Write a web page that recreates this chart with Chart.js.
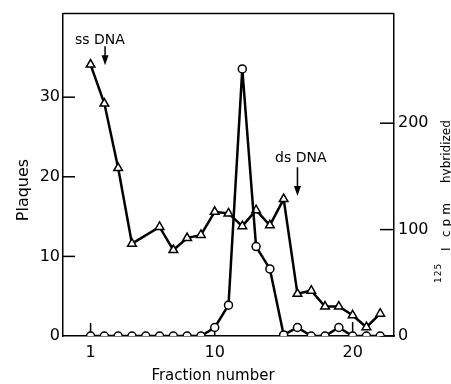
<!DOCTYPE html>
<html>
<head>
<meta charset="utf-8">
<script src="https://cdn.jsdelivr.net/npm/chart.js@4.4.1/dist/chart.umd.min.js"></script>
<style>
  body { margin: 0; background: #fff; }
  #wrap { width: 451px; height: 384px; }
</style>
</head>
<body>
<div id="wrap"><canvas id="TChart"></canvas></div>
<script>
// fraction numbers and values
var fractions = [1,2,3,4,5,6,7,8,9,10,11,12,13,14,15,16,17,18,19,20,21,22];
var plaqueFractions = [1,2,3,4,6,7,8,9,10,11,12,13,14,15,16,17,18,19,20,21,22]; // no point at 5
var plaques = [34.1,29.2,21.1,11.6,13.7,10.8,12.3,12.7,15.6,15.4,13.8,15.8,13.9,17.2,5.3,5.7,3.7,3.7,2.6,1.1,2.8];
var cpm = [0,0,0,0,0,0,0,0,0,8,29,251,84,63,1,8,0,0,8,0,0,0];

var xTicks = [1, 10, 20];
var plaqueTicks = [0, 10, 20, 30];
var cpmTicks = [0, 100, 200];

var FONT = "'DejaVu Sans', sans-serif";

function pts(xs, ys) {
  var out = [];
  for (var i = 0; i < xs.length; i++) out.push({x: xs[i], y: ys[i]});
  return out;
}

function line(ctx, x1, y1, x2, y2) {
  ctx.beginPath(); ctx.moveTo(x1, y1); ctx.lineTo(x2, y2); ctx.stroke();
}

function arrow(ctx, x, y1, y2) {
  ctx.lineWidth = 1.5;
  line(ctx, x, y1, x, y2 - 8);
  ctx.beginPath();
  ctx.moveTo(x - 3.5, y2 - 10); ctx.lineTo(x + 3.5, y2 - 10); ctx.lineTo(x, y2);
  ctx.closePath(); ctx.fill();
}

var frame = {
  id: 'frame',
  beforeDatasetsDraw: function(chart) {
    var ctx = chart.ctx, a = chart.chartArea, s = chart.scales;
    ctx.save();
    ctx.strokeStyle = '#000';
    ctx.lineWidth = 1.5;
    line(ctx, a.left, a.top, a.right, a.top);
    plaqueTicks.forEach(function(v) {
      var y = s.yL.getPixelForValue(v);
      if (v > 0) line(ctx, a.left, y, a.left + 12, y);
    });
    cpmTicks.forEach(function(v) {
      var y = s.yR.getPixelForValue(v);
      line(ctx, a.right - 14, y, a.right, y);
    });
    var tl = [13, 6, 14];
    xTicks.forEach(function(v, i) {
      var x = s.x.getPixelForValue(v);
      line(ctx, x, a.bottom, x, a.bottom - tl[i]);
    });
    ctx.restore();
  },
  afterDraw: function(chart) {
    var ctx = chart.ctx, s = chart.scales;
    ctx.save();
    ctx.fillStyle = '#000';
    ctx.strokeStyle = '#000';

    // x title
    ctx.font = '15px ' + FONT;
    ctx.textAlign = 'center';
    ctx.textBaseline = 'alphabetic';
    ctx.fillText('Fraction number', 213, 380);

    // left title
    ctx.save();
    ctx.translate(28, 190);
    ctx.rotate(-Math.PI / 2);
    ctx.font = '16px ' + FONT;
    ctx.fillText('Plaques', 0, 0);
    ctx.restore();

    // right title
    ctx.save();
    ctx.translate(450, 287);
    ctx.rotate(-Math.PI / 2);
    ctx.textAlign = 'left';
    ctx.font = '9px ' + FONT;
    ctx.letterSpacing = '1px';
    ctx.fillText('125', 4, -9);
    ctx.letterSpacing = '0px';
    ctx.font = '12px ' + FONT;
    ctx.fillText('I', 36, 0);
    ctx.letterSpacing = '4px';
    ctx.fillText('cpm', 50, 0);
    ctx.letterSpacing = '0px';
    ctx.fillText('hybridized', 104, 0);
    ctx.restore();

    // annotations
    ctx.font = '14px ' + FONT;
    ctx.textAlign = 'left';
    ctx.textBaseline = 'middle';
    ctx.fillText('ss DNA', 75, 40);
    ctx.fillText('ds DNA', 275, 158);
    arrow(ctx, s.x.getPixelForValue(2.05), s.yL.getPixelForValue(36.4), s.yL.getPixelForValue(34.0));
    arrow(ctx, s.x.getPixelForValue(16), s.yL.getPixelForValue(21.2), s.yL.getPixelForValue(17.6));
    ctx.restore();
  }
};

function setTicks(list) {
  return function(scale) {
    scale.ticks = list.map(function(v) { return {value: v}; });
  };
}

new Chart(document.getElementById('TChart'), {
  type: 'line',
  data: {
    datasets: [{
      data: pts(fractions, cpm),
      yAxisID: 'yR',
      borderColor: '#000',
      borderWidth: 2.5,
      pointStyle: 'circle',
      pointRadius: 4,
      pointBackgroundColor: '#fff',
      pointBorderColor: '#000',
      pointBorderWidth: 1.5,
      fill: false,
      tension: 0
    }, {
      data: pts(plaqueFractions, plaques),
      yAxisID: 'yL',
      borderColor: '#000',
      borderWidth: 2.5,
      pointStyle: 'triangle',
      pointRadius: 5,
      pointBackgroundColor: '#fff',
      pointBorderColor: '#000',
      pointBorderWidth: 1.5,
      fill: false,
      tension: 0
    }]
  },
  options: {
    responsive: true,
    maintainAspectRatio: false,
    animation: false,
    layout: { padding: { top: 12, left: 0, right: 0, bottom: 0 } },
    plugins: { legend: { display: false }, tooltip: { enabled: false } },
    scales: {
      x: {
        type: 'linear',
        min: -1, max: 23,
        afterBuildTicks: setTicks(xTicks),
        afterFit: function(s) { s.height = 48; },
        grid: { display: false, drawTicks: false },
        border: { display: true, color: '#000', width: 1.5 },
        ticks: { color: '#000', font: { family: FONT, size: 16 }, padding: 7, maxRotation: 0 }
      },
      yL: {
        position: 'left',
        min: 0, max: 40.5,
        afterBuildTicks: setTicks(plaqueTicks),
        afterFit: function(s) { s.width = 63; },
        grid: { display: false, drawTicks: false },
        border: { display: true, color: '#000', width: 1.5 },
        ticks: { color: '#000', font: { family: FONT, size: 16 }, padding: 3 }
      },
      yR: {
        position: 'right',
        min: 0, max: 303,
        afterBuildTicks: setTicks(cpmTicks),
        afterFit: function(s) { s.width = 57; },
        grid: { display: false, drawTicks: false },
        border: { display: true, color: '#000', width: 1.5 },
        ticks: { color: '#000', font: { family: FONT, size: 16 }, padding: 4 }
      }
    }
  },
  plugins: [frame]
});
</script>
</body>
</html>
